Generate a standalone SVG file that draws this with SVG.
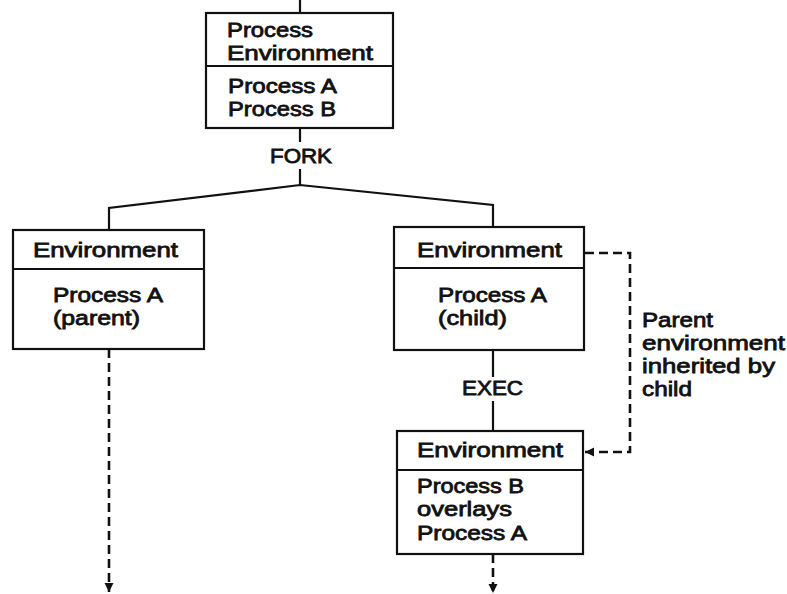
<svg xmlns="http://www.w3.org/2000/svg" width="787" height="594" viewBox="0 0 787 594">
<defs>
<style>
.box{fill:#fff;stroke:#111;stroke-width:2.2}
.div{stroke:#111;stroke-width:2.2}
.ln{fill:none;stroke:#111;stroke-width:2.2}
.dash{fill:none;stroke:#111;stroke-width:2.6;stroke-dasharray:9,5}
text{font-family:"Liberation Sans",Arial,sans-serif;font-size:20.5px;fill:#111;stroke:#111;stroke-width:0.8}
</style>
<marker id="arr" markerUnits="userSpaceOnUse" markerWidth="10" markerHeight="10" refX="9" refY="5" orient="auto">
<path d="M0,0.5 L9,5 L0,9.5 z" fill="#111"/>
</marker>
</defs>
<rect width="787" height="594" fill="#fff"/>
<g id="connectors">
<line class="ln" x1="300" y1="0" x2="300" y2="13"/>
<line class="ln" x1="300" y1="128" x2="300" y2="142"/>
<line class="ln" x1="300" y1="169" x2="300" y2="185"/>
<polyline class="ln" points="109,230 109,208 300,185 493,205 493,227"/>
<line class="ln" x1="493" y1="350" x2="493" y2="377"/>
<line class="ln" x1="493" y1="401" x2="493" y2="431"/>
<line class="dash" x1="109" y1="349" x2="109" y2="592" marker-end="url(#arr)"/>
<line class="dash" x1="493" y1="554" x2="493" y2="593" marker-end="url(#arr)"/>
<polyline class="dash" points="585,253 630,253 630,452 585,452" marker-end="url(#arr)"/>
<text x="270" y="163" textLength="62" lengthAdjust="spacingAndGlyphs">FORK</text>
<text x="462" y="395" textLength="61" lengthAdjust="spacingAndGlyphs">EXEC</text>
<text x="642" y="327" textLength="71" lengthAdjust="spacingAndGlyphs">Parent</text>
<text x="642" y="350" textLength="143" lengthAdjust="spacingAndGlyphs">environment</text>
<text x="642" y="373" textLength="133" lengthAdjust="spacingAndGlyphs">inherited by</text>
<text x="642" y="396" textLength="50" lengthAdjust="spacingAndGlyphs">child</text>
</g>
<g id="top">
<rect class="box" x="206" y="13" width="187" height="115"/>
<line class="div" x1="206" y1="66" x2="393" y2="66"/>
<text x="227" y="37" textLength="86" lengthAdjust="spacingAndGlyphs">Process</text>
<text x="227" y="60" textLength="146" lengthAdjust="spacingAndGlyphs">Environment</text>
<text x="228" y="93" textLength="109" lengthAdjust="spacingAndGlyphs">Process A</text>
<text x="228" y="116" textLength="108" lengthAdjust="spacingAndGlyphs">Process B</text>
</g>
<g id="parent">
<rect class="box" x="13" y="230" width="191" height="119"/>
<line class="div" x1="13" y1="269" x2="204" y2="269"/>
<text x="33" y="257" textLength="145" lengthAdjust="spacingAndGlyphs">Environment</text>
<text x="53" y="302" textLength="110" lengthAdjust="spacingAndGlyphs">Process A</text>
<text x="53" y="325" textLength="87" lengthAdjust="spacingAndGlyphs">(parent)</text>
</g>
<g id="child">
<rect class="box" x="394" y="227" width="190" height="123"/>
<line class="div" x1="394" y1="268" x2="584" y2="268"/>
<text x="417" y="257" textLength="145" lengthAdjust="spacingAndGlyphs">Environment</text>
<text x="438" y="302" textLength="109" lengthAdjust="spacingAndGlyphs">Process A</text>
<text x="438" y="325" textLength="69" lengthAdjust="spacingAndGlyphs">(child)</text>
</g>
<g id="exec">
<rect class="box" x="397" y="431" width="186" height="123"/>
<line class="div" x1="397" y1="470" x2="583" y2="470"/>
<text x="417" y="457" textLength="146" lengthAdjust="spacingAndGlyphs">Environment</text>
<text x="417" y="493" textLength="107" lengthAdjust="spacingAndGlyphs">Process B</text>
<text x="417" y="516" textLength="95" lengthAdjust="spacingAndGlyphs">overlays</text>
<text x="417" y="540" textLength="110" lengthAdjust="spacingAndGlyphs">Process A</text>
</g>
</svg>
